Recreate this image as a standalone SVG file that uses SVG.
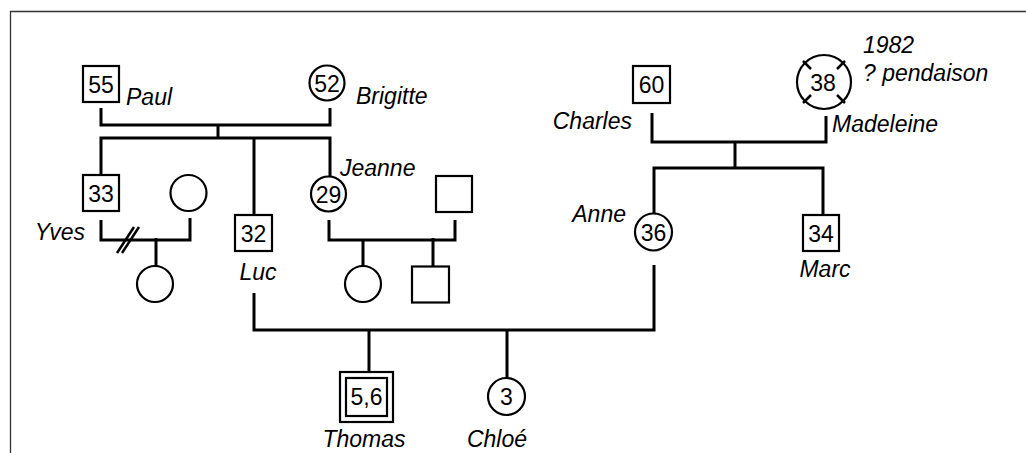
<svg xmlns="http://www.w3.org/2000/svg" width="1026" height="453" viewBox="0 0 1026 453">
<defs>
<style>
.frame{fill:none;stroke:#333;stroke-width:1.3}
.c{fill:none;stroke:#000;stroke-width:3;stroke-linecap:butt;stroke-linejoin:miter}
.s{fill:#fff;stroke:#000;stroke-width:2.2}
.m{fill:none;stroke:#000;stroke-width:2.5}
.n{font-family:"Liberation Sans",Arial,sans-serif;font-size:23px;text-anchor:middle;fill:#000}
.l{font-family:"Liberation Sans",Arial,sans-serif;font-size:23px;font-style:italic;fill:#000}
</style>
</defs>
<rect width="1026" height="453" fill="#fff"/>
<path class="frame" d="M10.5,453 V11.5 H1026"/>
<g id="connectors">
<path class="c" d="M101,108 V125 H330 V108"/>
<path class="c" d="M218,125 V138"/>
<path class="c" d="M101,175 V138 H330 V176"/>
<path class="c" d="M254,138 V215"/>
<path class="c" d="M101,220 V240 H190 V218"/>
<path class="c" d="M156,238 V266"/>
<path class="m" d="M117,253 L134,227 M122,253 L139,227"/>
<path class="c" d="M329,220 V240 H455 V220"/>
<path class="c" d="M363,240 V266"/>
<path class="c" d="M433,238 V267"/>
<path class="c" d="M652,113 V142 H826 V116"/>
<path class="c" d="M735,142 V168"/>
<path class="c" d="M654,213 V168 H823 V215"/>
<path class="c" d="M254,293 V330 H654 V265"/>
<path class="c" d="M369,330 V372"/>
<path class="c" d="M507,330 V378"/>
</g>
<g id="paul"><rect class="s" x="83" y="66" width="36" height="36"/><text class="n" x="101" y="92.5">55</text><text class="l" x="126" y="105">Paul</text></g>
<g id="brigitte"><circle class="s" cx="327" cy="83" r="17.5"/><text class="n" x="327" y="91.5">52</text><text class="l" x="356" y="103.5">Brigitte</text></g>
<g id="yves"><rect class="s" x="83" y="175" width="36" height="36"/><text class="n" x="101" y="201.5">33</text><text class="l" x="85" y="239.5" text-anchor="end">Yves</text></g>
<g id="yves-spouse"><circle class="s" cx="188.5" cy="193" r="18"/></g>
<g id="yves-child"><circle class="s" cx="155" cy="284" r="18"/></g>
<g id="luc"><rect class="s" x="235" y="215" width="37" height="36"/><text class="n" x="253.5" y="241.5">32</text><text class="l" x="258" y="279.5" text-anchor="middle">Luc</text></g>
<g id="jeanne"><circle class="s" cx="328.5" cy="194" r="17.5"/><text class="n" x="328.5" y="202.5">29</text><text class="l" x="340" y="175.5">Jeanne</text></g>
<g id="jeanne-spouse"><rect class="s" x="436" y="176" width="36" height="36"/></g>
<g id="jeanne-daughter"><circle class="s" cx="363" cy="284" r="18"/></g>
<g id="jeanne-son"><rect class="s" x="412" y="266.5" width="37" height="36"/></g>
<g id="charles"><rect class="s" x="633" y="66" width="37" height="37"/><text class="n" x="651.5" y="93">60</text><text class="l" x="632" y="128.5" text-anchor="end">Charles</text></g>
<g id="madeleine"><circle class="s" cx="824" cy="82" r="27"/><path class="m" d="M803,61 L811,69 M845,61 L837,69 M803,103 L811,95 M845,103 L837,95"/><text class="n" x="823" y="91">38</text><text class="l" x="832" y="131.5">Madeleine</text><text class="l" x="863" y="52.5">1982</text><text class="l" x="863" y="80.5">? pendaison</text></g>
<g id="anne"><circle class="s" cx="653.5" cy="232" r="18.5"/><text class="n" x="653.5" y="240.5">36</text><text class="l" x="626" y="221.5" text-anchor="end">Anne</text></g>
<g id="marc"><rect class="s" x="803" y="215" width="36" height="36"/><text class="n" x="821" y="241.5">34</text><text class="l" x="825" y="277" text-anchor="middle">Marc</text></g>
<g id="thomas"><rect class="s" x="340" y="372" width="53" height="50"/><rect class="s" x="346" y="378" width="41" height="38"/><text class="n" x="366.5" y="405">5,6</text><text class="l" x="364" y="447" text-anchor="middle">Thomas</text></g>
<g id="chloe"><circle class="s" cx="506.5" cy="396.5" r="18.5"/><text class="n" x="506.5" y="404.5">3</text><text class="l" x="497" y="447" text-anchor="middle">Chloé</text></g>
</svg>
